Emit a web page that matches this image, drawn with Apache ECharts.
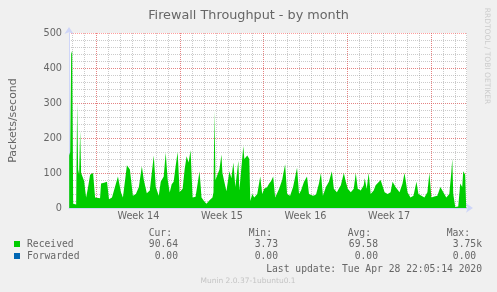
<!DOCTYPE html>
<html><head><meta charset="utf-8">
<script src="https://cdn.jsdelivr.net/npm/echarts@6/dist/echarts.min.js"></script>
<style>html,body{margin:0;padding:0;background:#F0F0F0;}#c{width:497px;height:292px;}</style>
</head><body><div id="c"></div>
<script>
// hours relative to the start of week 14
const hours = [-55,-53,-51,-49,-47,-41,-39,-37,-35,-33,-31,-27,-25,-21,-17,-13,-7,-3,1,7,9,15,21,25,31,39,43,49,53,57,61,67,73,79,85,91,95,101,107,111,115,119,125,129,135,139,143,147,151,155,159,163,167,173,177,181,185,189,193,199,207,211,217,221,227,233,235,237,239,243,247,251,253,257,261,267,271,275,279,283,285,287,291,295,297,303,307,309,313,317,323,329,333,337,343,347,351,355,359,363,367,373,379,383,389,395,403,407,411,417,423,427,435,441,447,451,455,461,467,473,477,483,487,491,497,501,505,511,517,521,525,531,537,539,543,547,551,557,561,571,579,585,591,595,601,605,609,615,619,625,631,637,643,647,653,659,665,669,673,679,685,691,697,703,709,713,715,717,721,727,731,735,737,741,743];
const received = [150,160,440,450,12,10,300,110,96,220,100,95,77,30,60,95,100,30,28,28,70,72,75,25,30,70,90,45,30,32,122,110,35,40,60,119,80,42,50,100,150,60,35,75,90,158,80,44,68,75,120,160,45,55,110,148,130,165,30,32,105,30,18,12,22,30,45,277,80,75,110,153,100,100,48,105,85,130,60,55,135,50,55,177,140,150,140,20,40,30,40,90,40,55,60,70,77,90,30,30,55,80,125,40,35,60,115,40,50,75,90,40,35,38,70,100,35,60,75,105,55,45,40,65,100,75,55,45,55,100,55,50,65,85,55,100,40,50,65,80,45,40,45,75,60,62,45,70,100,45,30,35,75,40,35,30,45,100,30,33,35,60,45,30,40,100,140,40,3,4,70,60,105,95,90];
const forwardedHours = [-55, 743];
const forwarded = [0, 0];
const weekLabels = ['Week 14','Week 15','Week 16','Week 17'];
const statHeaders = ['Cur:','Min:','Avg:','Max:'];
const receivedStats = ['90.64','3.73','69.58','3.75k'];
const forwardedStats = ['0.00','0.00','0.00','0.00'];
const lastUpdate = 'Last update: Tue Apr 28 22:05:14 2020';

const chart = echarts.init(document.getElementById('c'), null, {renderer:'canvas'});
const FONT = 'DejaVu Sans';
const MONO = 'DejaVu Sans Mono';
const axisCol = '#CFD6F8';
const minorGrid = {show:true, lineStyle:{color:'rgba(140,140,140,0.45)', type:[1,1], width:1}, showMinLine:false, showMaxLine:false};
const majorGrid = {show:true, lineStyle:{color:'rgba(255,60,60,0.5)', type:[1,1], width:1}, showMinLine:false, showMaxLine:false};
const xMin = -55.4, xMax = 744.6;

const colX = [172, 272, 371, 470];
const colV = [178, 278, 378, 482];
const graphics = [];
statHeaders.forEach((t,i)=>graphics.push({type:'text', style:{text:t, x:colX[i], y:233, align:'right', verticalAlign:'middle', font:'9.7px "'+MONO+'"', fill:'#666'}}));
receivedStats.forEach((t,i)=>graphics.push({type:'text', style:{text:t, x:colV[i], y:244, align:'right', verticalAlign:'middle', font:'9.7px "'+MONO+'"', fill:'#666'}}));
forwardedStats.forEach((t,i)=>graphics.push({type:'text', style:{text:t + (i===3?' ':''), x:colV[i], y:256, align:'right', verticalAlign:'middle', font:'9.7px "'+MONO+'"', fill:'#666'}}));
graphics.push({type:'text', style:{text:lastUpdate, x:482, y:269, align:'right', verticalAlign:'middle', font:'9.7px "'+MONO+'"', fill:'#666'}});
graphics.push({type:'text', style:{text:'Munin 2.0.37-1ubuntu0.1', x:248, y:281, align:'center', verticalAlign:'middle', font:'7.5px "'+FONT+'"', fill:'#c4c4c4'}});
graphics.push({type:'text', x:487, y:56, rotation:-Math.PI/2, style:{text:'RRDTOOL / TOBI OETIKER', x:0, y:0, align:'center', verticalAlign:'middle', font:'7.5px "'+FONT+'"', fill:'#cccccc'}});

chart.setOption({
  backgroundColor:'#F0F0F0',
  animation:false,
  title:{text:'Firewall Throughput - by month', left:'center', top:4, textStyle:{fontFamily:FONT, fontSize:12.8, fontWeight:'normal', color:'#666'}},
  grid:{left:67, top:33, width:400, height:175, show:true, backgroundColor:'#FFFFFF', borderWidth:0},
  legend:{orient:'vertical', left:14, top:238, padding:0, itemGap:0, itemWidth:6, itemHeight:6, icon:'rect',
    textStyle:{fontFamily:MONO, fontSize:9.7, color:'#666', lineHeight:12, padding:[0,0,0,2]},
    data:['Received','Forwarded']},
  xAxis:[
    {type:'value', position:'bottom', min:xMin, max:xMax, minInterval:24, maxInterval:24, splitLine:minorGrid,
     axisLine:{show:true, onZero:false, lineStyle:{color:axisCol}, symbol:['none','arrow'], symbolSize:[7,7], symbolOffset:[0,6]},
     axisTick:{show:false}, axisLabel:{show:false}},
    {type:'value', position:'bottom', min:xMin, max:xMax, minInterval:168, maxInterval:168, splitLine:majorGrid,
     axisLine:{show:false, onZero:false}, axisTick:{show:false}, axisLabel:{show:false}},
    {type:'value', position:'bottom', min:xMin+84, max:xMax+84, minInterval:168, maxInterval:168, splitLine:{show:false},
     axisLine:{show:false, onZero:false}, axisTick:{show:false},
     axisLabel:{show:true, showMinLabel:false, showMaxLabel:false, margin:3, color:'#666', fontFamily:FONT, fontSize:9.7,
       formatter:v=>{const k=Math.round(v/168)-1; return (Math.abs(v/168-Math.round(v/168))<1e-6 && weekLabels[k])?weekLabels[k]:'';}}}
  ],
  yAxis:[
    {type:'value', min:0, max:500, interval:20, position:'left', splitLine:minorGrid,
     axisLine:{show:true, onZero:false, lineStyle:{color:axisCol}, symbol:['none','arrow'], symbolSize:[7,7], symbolOffset:[0,6]},
     axisTick:{show:false}, axisLabel:{show:false}},
    {type:'value', min:0, max:500, interval:100, position:'left', splitLine:{show:true, lineStyle:{color:'rgba(255,60,60,0.5)', type:[1,1], width:1}, showMinLine:false},
     axisLine:{show:false, onZero:false}, axisTick:{show:false},
     axisLabel:{show:true, margin:7, color:'#666', fontFamily:FONT, fontSize:9.7},
     name:'Packets/second', nameLocation:'middle', nameGap:50, nameTextStyle:{fontFamily:FONT, fontSize:11, color:'#666'}}
  ],
  series:[
    {name:'Received', type:'line', xAxisIndex:0, yAxisIndex:0, symbol:'none', silent:true,
     lineStyle:{width:0}, itemStyle:{color:'#00CC00'}, areaStyle:{color:'#00CC00', opacity:1},
     data:hours.map((h,i)=>[h, received[i]]), z:2},
    {name:'Forwarded', type:'line', xAxisIndex:0, yAxisIndex:0, symbol:'none', silent:true,
     lineStyle:{width:1, opacity:0}, itemStyle:{color:'#0066B3'},
     data:forwardedHours.map((h,i)=>[h, forwarded[i]])}
  ],
  graphic:graphics
});
</script></body></html>
